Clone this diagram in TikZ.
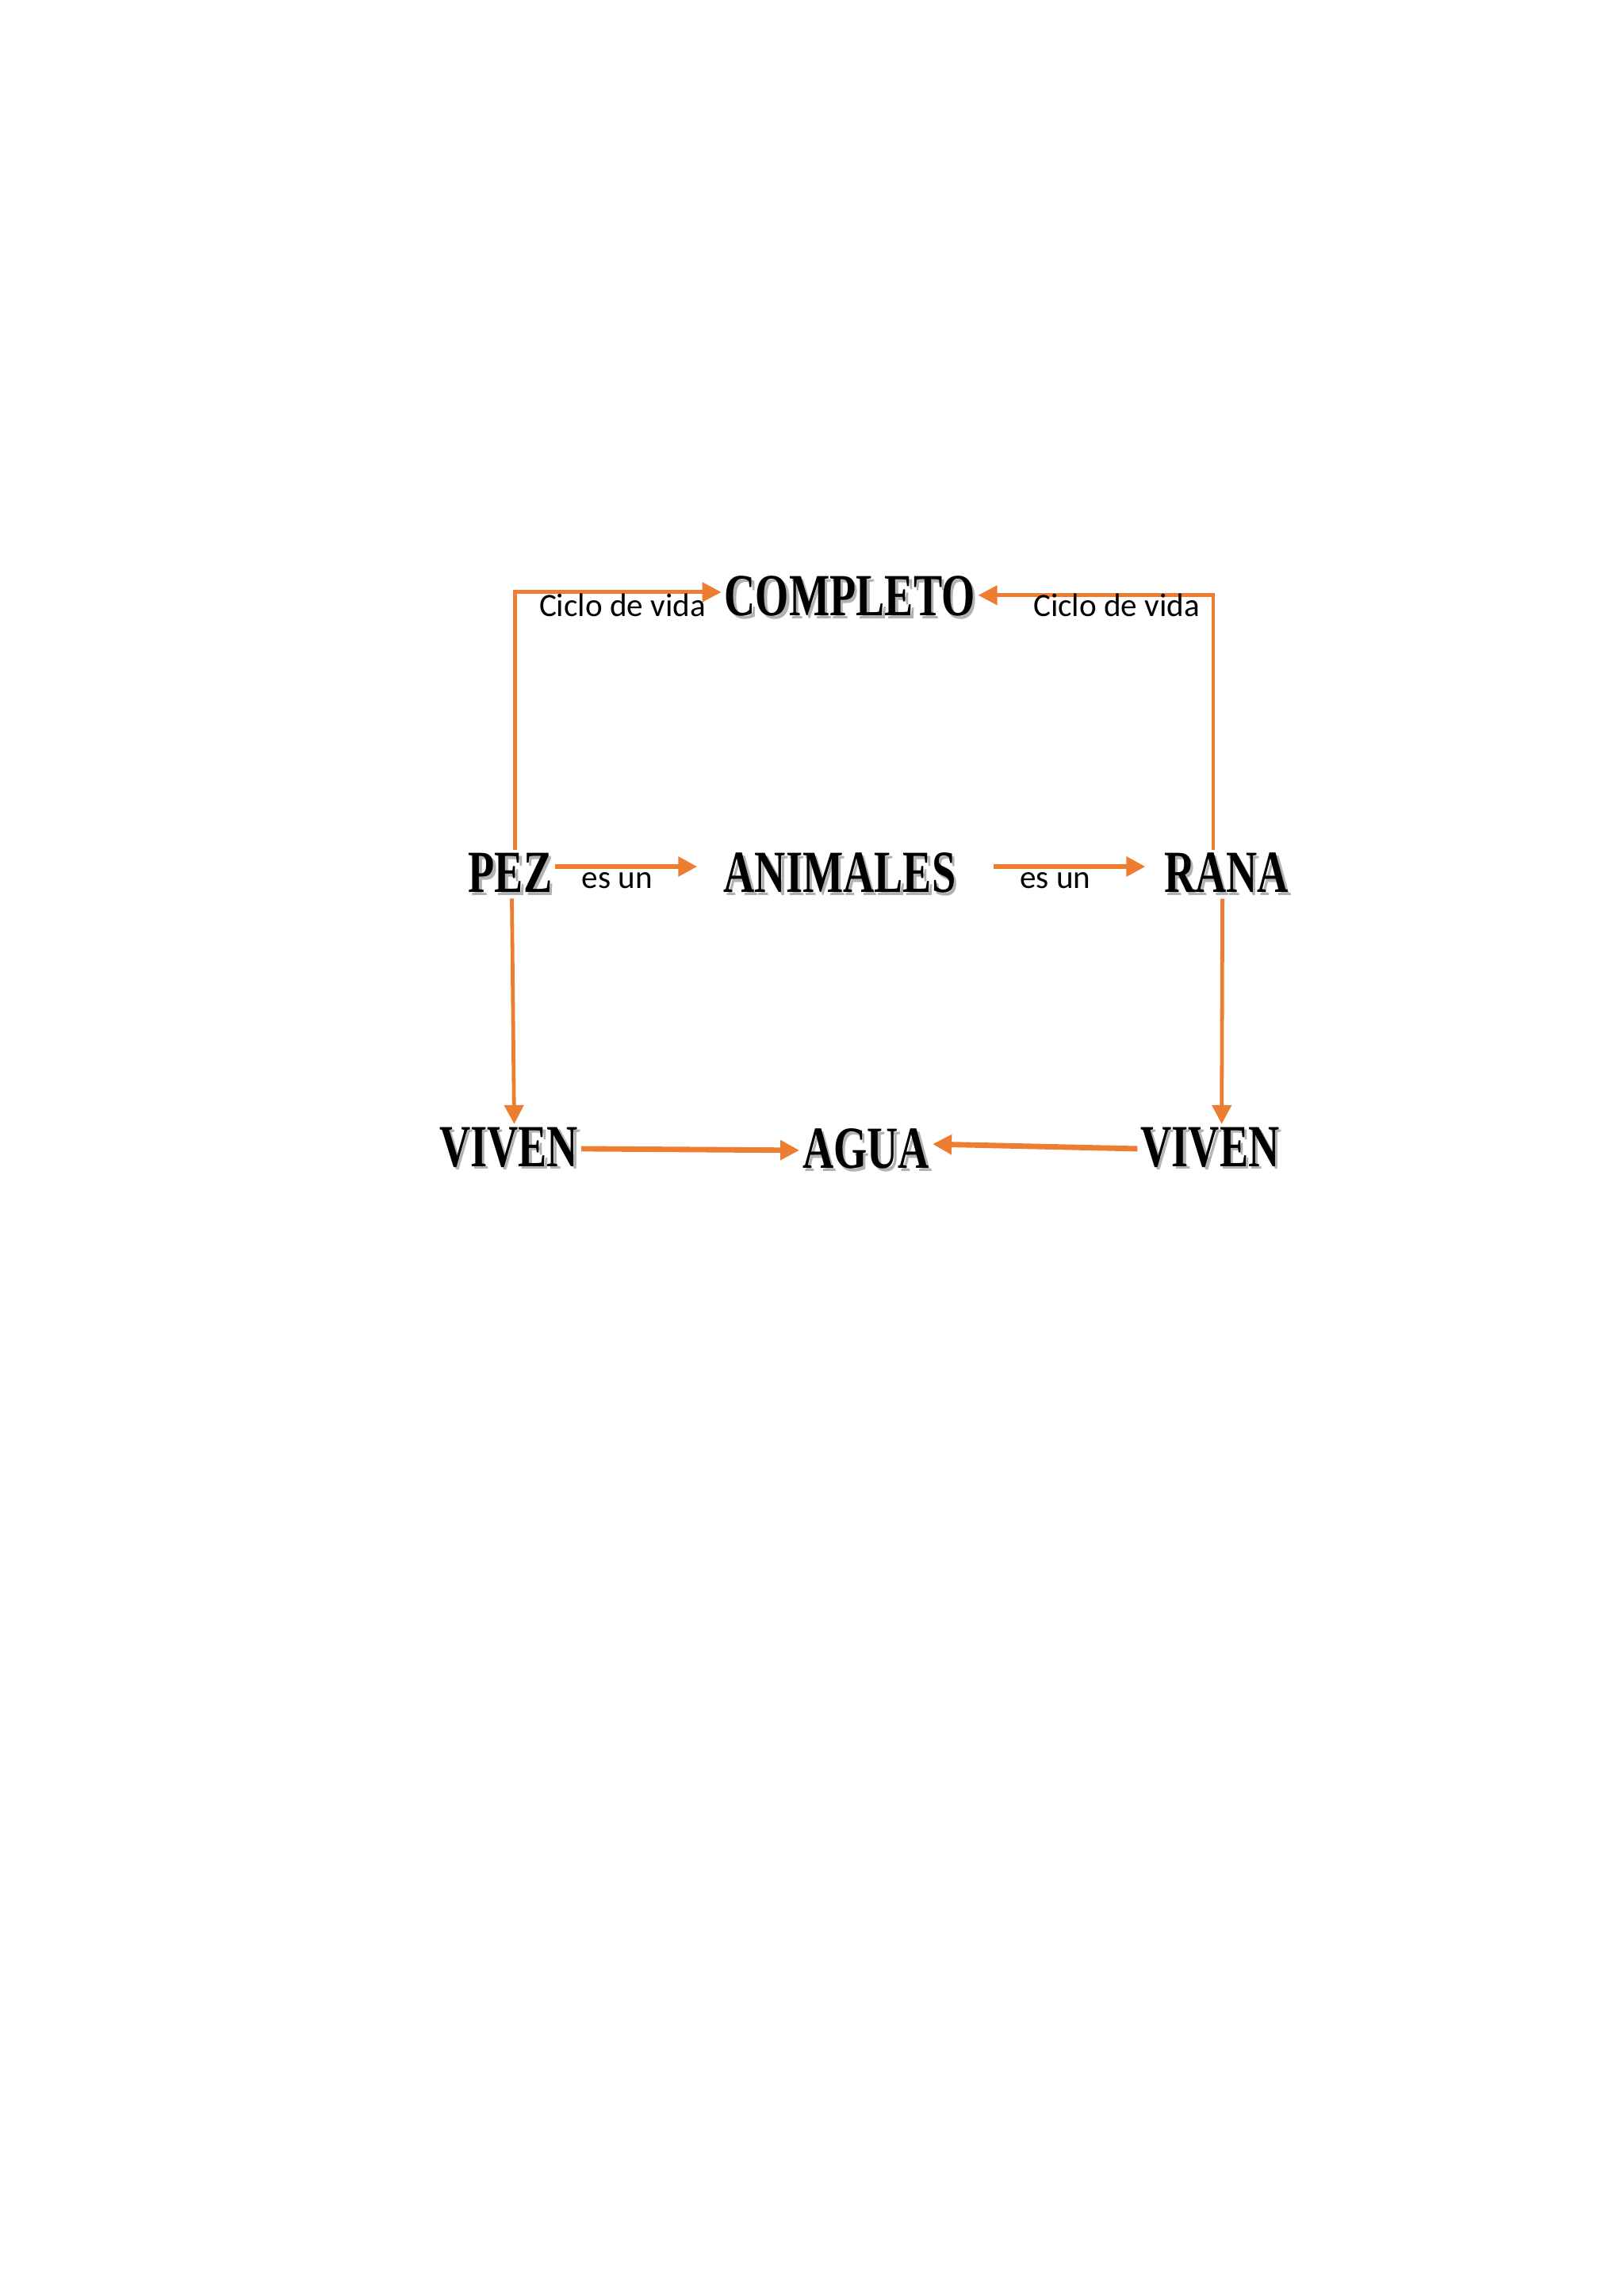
\documentclass[tikz,border=0pt]{standalone}
\usepackage{fontspec}
\setmainfont{Carlito}
\newfontfamily\titlefont[FakeStretch=0.72]{Liberation Serif}
\usetikzlibrary{arrows.meta}
\definecolor{naranja}{RGB}{237,125,49}
\newcommand{\sombra}[1]{\makebox[0pt][l]{\hspace{1pt}\raisebox{-1pt}{\textcolor{gray!60}{#1}}}#1}

\begin{document}
\begin{tikzpicture}[
    palabra/.style = {font=\titlefont\bfseries\fontsize{22}{22}\selectfont, inner sep=1pt},
    etiqueta/.style = {font=\fontsize{12}{12}\selectfont, inner sep=0pt},
    flecha/.style = {draw=naranja, line width=1.4pt, -{Triangle[length=7pt, width=7pt]}}
  ]
  \useasboundingbox (0, 0) rectangle (21, 29.7);
  % conceptos
  \node [palabra] (completo) at (10.99, 21.97) {\sombra{COMPLETO}};
  \node [palabra] (pez) at (6.60, 18.39) {\sombra{PEZ}};
  \node [palabra] (animales) at (10.86, 18.39) {\sombra{ANIMALES}};
  \node [palabra] (rana) at (15.86, 18.39) {\sombra{RANA}};
  \node [palabra] (vivenA) at (6.58, 14.84) {\sombra{VIVEN}};
  \node [palabra] (agua) at (11.20, 14.82) {\sombra{AGUA}};
  \node [palabra] (vivenB) at (15.65, 14.84) {\sombra{VIVEN}};
  % conectores
  \draw [flecha] ([xshift=0.06cm]pez.north) |- ([yshift=0.07cm]completo.west);
  \draw [flecha] ([xshift=-0.17cm]rana.north) |- ([yshift=0.03cm]completo.east);
  \draw [flecha] [line width=2pt] ([yshift=0.1cm]pez.east) -- ([yshift=0.1cm, xshift=-0.3cm]animales.west);
  \draw [flecha] [line width=2pt] ([yshift=0.1cm, xshift=0.45cm]animales.east) -- ([yshift=0.1cm, xshift=-0.2cm]rana.west);
  \draw [flecha] ([xshift=0.02cm]pez.south) -- ([xshift=0.07cm]vivenA.north);
  \draw [flecha] ([xshift=-0.05cm]rana.south) -- ([xshift=0.15cm]vivenB.north);
  \draw [flecha] [line width=2pt] (vivenA.east) -- (agua.west);
  \draw [flecha] [line width=2pt] (vivenB.west) -- ([yshift=0.08cm]agua.east);
  % etiquetas
  \node [etiqueta] (cicloA) at (8.05, 21.87) {Ciclo de vida};
  \node [etiqueta] (cicloB) at (14.44, 21.87) {Ciclo de vida};
  \node [etiqueta] (esunA) at (7.98, 18.31) {es un};
  \node [etiqueta] (esunB) at (13.65, 18.31) {es un};
\end{tikzpicture}
\end{document}
